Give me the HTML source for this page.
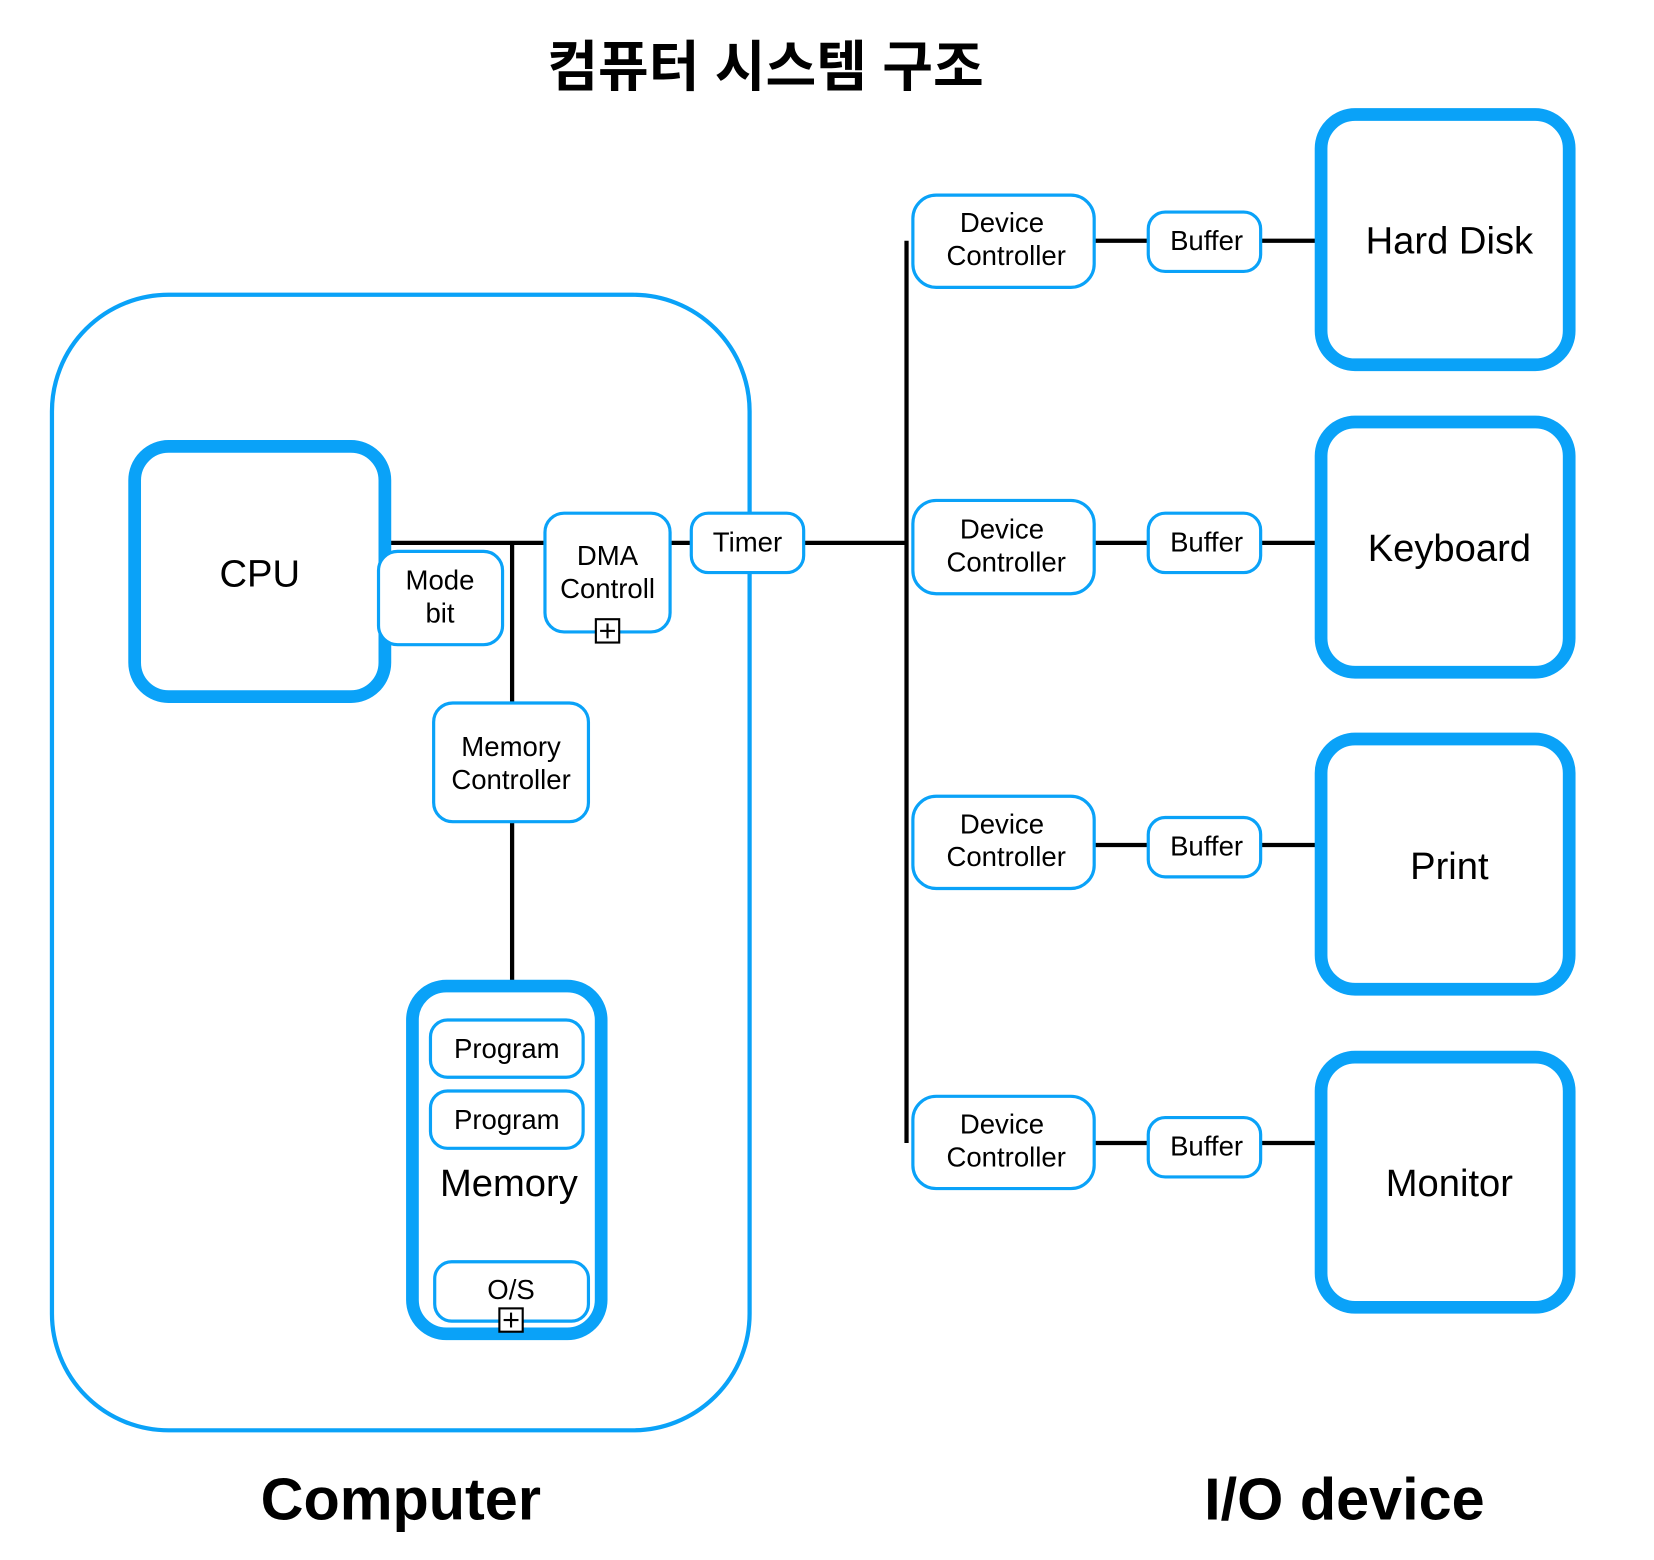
<!DOCTYPE html>
<html><head><meta charset="utf-8"><style>html,body{margin:0;padding:0;background:#fff}svg{display:block}</style></head>
<body>
<svg width="1654" height="1560" viewBox="0 0 1560 1471.3" xmlns="http://www.w3.org/2000/svg" font-family="Liberation Sans, Noto Sans CJK KR, sans-serif">
<g fill="none" stroke="#000" stroke-width="4">
<line x1="363" y1="512" x2="514" y2="512"/>
<line x1="483" y1="512" x2="483" y2="663"/>
<line x1="483" y1="775" x2="483" y2="930"/>
<line x1="632" y1="512" x2="652" y2="512"/>
<line x1="758" y1="512" x2="855" y2="512"/>
<line x1="855" y1="227" x2="855" y2="1078"/>
<line x1="1031" y1="227" x2="1246" y2="227"/>
<line x1="1031" y1="512" x2="1246" y2="512"/>
<line x1="1031" y1="797" x2="1246" y2="797"/>
<line x1="1031" y1="1078" x2="1246" y2="1078"/>
</g>
<g fill="#fff" stroke="#0aa2f8">
<rect x="49" y="278" width="658" height="1071" rx="110" stroke-width="4" fill="none"/>
<rect x="127" y="421" width="236" height="236" rx="32" stroke-width="12"/>
<rect x="357" y="520" width="117" height="88" rx="18" stroke-width="3"/>
<rect x="514" y="484" width="118" height="112" rx="18" stroke-width="3"/>
<rect x="652" y="484" width="106" height="56" rx="16" stroke-width="3"/>
<rect x="409" y="663" width="146" height="112" rx="18" stroke-width="3"/>
<rect x="389" y="930" width="178" height="328" rx="32" stroke-width="12"/>
<rect x="406" y="962" width="144" height="54" rx="16" stroke-width="3"/>
<rect x="406" y="1029" width="144" height="54" rx="16" stroke-width="3"/>
<rect x="410" y="1190" width="145" height="56" rx="16" stroke-width="3"/>
<rect x="861" y="184" width="171" height="87" rx="22" stroke-width="3"/>
<rect x="861" y="472" width="171" height="88" rx="22" stroke-width="3"/>
<rect x="861" y="751" width="171" height="87" rx="22" stroke-width="3"/>
<rect x="861" y="1034" width="171" height="87" rx="22" stroke-width="3"/>
<rect x="1083" y="200" width="106" height="56" rx="16" stroke-width="3"/>
<rect x="1083" y="484" width="106" height="56" rx="16" stroke-width="3"/>
<rect x="1083" y="771" width="106" height="56" rx="16" stroke-width="3"/>
<rect x="1083" y="1054" width="106" height="56" rx="16" stroke-width="3"/>
<rect x="1246" y="108" width="234" height="236" rx="32" stroke-width="12"/>
<rect x="1246" y="398" width="234" height="236" rx="32" stroke-width="12"/>
<rect x="1246" y="697" width="234" height="236" rx="32" stroke-width="12"/>
<rect x="1246" y="997" width="234" height="236" rx="32" stroke-width="12"/>
</g>
<g fill="#fff" stroke="#000" stroke-width="2">
<rect x="562" y="584" width="22" height="22"/><line x1="573" y1="588" x2="573" y2="602"/><line x1="566" y1="595" x2="580" y2="595"/>
<rect x="471" y="1234" width="22" height="22"/><line x1="482" y1="1238" x2="482" y2="1252"/><line x1="475" y1="1245" x2="489" y2="1245"/>
</g>
<g fill="#000" text-anchor="middle" font-size="26">
<text x="722" y="81" font-size="52" font-weight="bold">컴퓨터 시스템 구조</text>
<text x="245" y="553" font-size="36">CPU</text>
<text x="415" y="556">Mode</text><text x="415" y="587">bit</text>
<text x="573" y="533">DMA</text><text x="573" y="564">Controll</text>
<text x="705" y="520">Timer</text>
<text x="482" y="713">Memory</text><text x="482" y="744">Controller</text>
<text x="478" y="998">Program</text><text x="478" y="1065">Program</text>
<text x="480" y="1128" font-size="36">Memory</text>
<text x="482" y="1225">O/S</text>
<g>
<text x="945" y="219">Device</text><text x="949" y="250">Controller</text>
<text x="945" y="508">Device</text><text x="949" y="539">Controller</text>
<text x="945" y="786">Device</text><text x="949" y="817">Controller</text>
<text x="945" y="1069">Device</text><text x="949" y="1100">Controller</text>
<text x="1138" y="236">Buffer</text><text x="1138" y="520">Buffer</text>
<text x="1138" y="807">Buffer</text><text x="1138" y="1090">Buffer</text>
</g>
<text x="1367" y="239" font-size="36">Hard Disk</text>
<text x="1367" y="529" font-size="36">Keyboard</text>
<text x="1367" y="829" font-size="36">Print</text>
<text x="1367" y="1128" font-size="36">Monitor</text>
<text x="378" y="1433" font-size="56" font-weight="bold">Computer</text>
<text x="1268" y="1433" font-size="56" font-weight="bold">I/O device</text>
</g>
</svg>
</body></html>
